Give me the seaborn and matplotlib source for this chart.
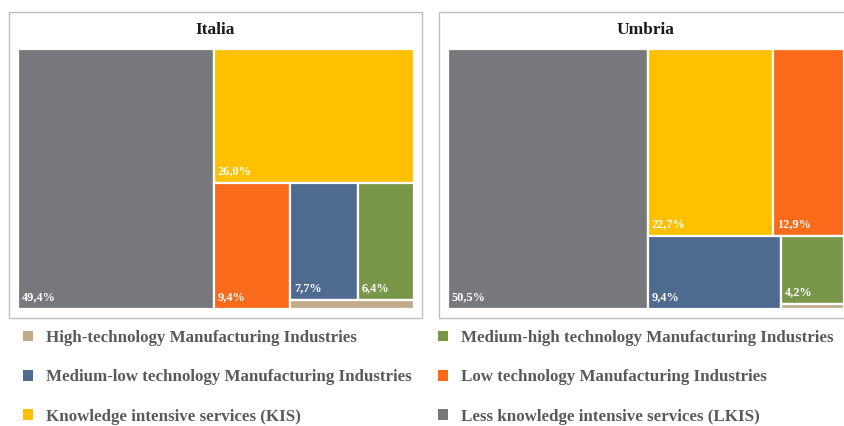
import matplotlib
matplotlib.use("Agg")
import matplotlib.pyplot as plt
from matplotlib.patches import Rectangle, Patch
import seaborn as sns

# ---- data -------------------------------------------------------------
categories = [
    "High-technology Manufacturing Industries",
    "Medium-high technology Manufacturing Industries",
    "Medium-low technology Manufacturing Industries",
    "Low technology Manufacturing Industries",
    "Knowledge intensive services (KIS)",
    "Less knowledge intensive services (LKIS)",
]
italia = [1.1, 6.4, 7.7, 9.4, 26.0, 49.4]
umbria = [0.3, 4.2, 9.4, 12.9, 22.7, 50.5]
regions = ["Italia", "Umbria"]

colors = ["#C1AB8B", "#7A9649", "#4E6A8F", "#F96A1B", "#FFC000", "#77787B"]

# ---- styling ----------------------------------------------------------
sns.set_theme(style="white")
SERIF = ["Liberation Serif", "DejaVu Serif"]
plt.rcParams["font.family"] = SERIF

W_PX, H_PX = 844, 426
LAYOUT_ASPECT = 2.1      # width:height of the space where cell shapes are balanced


def worst_ratio(row, total, W, H, vertical):
    frac = sum(row) / total
    s = sum(row)
    worst = 0.0
    for v in row:
        if vertical:
            w, h = W * frac, H * v / s
        else:
            w, h = W * v / s, H * frac
        worst = max(worst, w / h, h / w)
    return worst


def treemap(values):
    """Squarified layout with alternating strip direction, largest first."""
    order = sorted(range(len(values)), key=lambda i: -values[i])
    items = [values[i] for i in order]
    x0, y0, W, H = 0.0, 0.0, LAYOUT_ASPECT, 1.0
    total = sum(items)
    vertical = True
    rects = {}
    k = 0
    while k < len(items):
        row = [items[k]]
        j = k + 1
        while j < len(items):
            cand = row + [items[j]]
            if worst_ratio(cand, total, W, H, vertical) <= worst_ratio(row, total, W, H, vertical):
                row = cand
                j += 1
            else:
                break
        s = sum(row)
        frac = s / total
        if vertical:
            cw = W * frac
            yy = y0
            for n, v in enumerate(row):
                h = H * v / s
                rects[order[k + n]] = (x0, yy, cw, h)
                yy += h
            x0 += cw
            W -= cw
        else:
            rh = H * frac
            xx = x0
            for n, v in enumerate(row):
                w = W * v / s
                rects[order[k + n]] = (xx, y0, w, rh)
                xx += w
            y0 += rh
            H -= rh
        total -= s
        k += len(row)
        vertical = not vertical
    return rects


fig = plt.figure(figsize=(W_PX / 100, H_PX / 100), dpi=100)
fig.patch.set_facecolor("white")


def fx(px):
    return px / W_PX


def fy(py):
    return 1 - py / H_PX


panel_left = [9, 439]
map_left = [18, 448]
for name, vals, bx, mx in zip(regions, [italia, umbria], panel_left, map_left):
    # panel frame
    fig.add_artist(Rectangle((fx(bx), fy(318)), fx(413), 306 / H_PX,
                             transform=fig.transFigure, fill=False,
                             edgecolor="#BDBDBD", linewidth=1.0))
    fig.text(fx(bx + 206.5), fy(30), name, ha="center", va="center",
             fontsize=12.5, fontweight="bold", color="#1a1a1a")

    ax = fig.add_axes([fx(mx), fy(309), fx(396), 260 / H_PX])
    rects = treemap(vals)
    for i, (x, y, w, h) in rects.items():
        ax.bar(x, h, width=w, bottom=y, align="edge", color=colors[i],
               edgecolor="white", linewidth=1.6)
        if vals[i] >= 2:
            ax.annotate(f"{vals[i]:.1f}".replace(".", ",") + "%",
                        xy=(x, y + h), xytext=(2.8, 4.2),
                        textcoords="offset points", ha="left", va="bottom",
                        fontsize=8.8, fontweight="bold", color="white")
    ax.set_xlim(0, LAYOUT_ASPECT)
    ax.set_ylim(1, 0)
    ax.set_axis_off()

# legend: two columns, read row by row
leg_order = [0, 2, 4, 1, 3, 5]
handles = [Patch(facecolor=colors[i], edgecolor="none") for i in leg_order]
labels = [categories[i] for i in leg_order]
fig.legend(handles, labels, ncol=2, loc="upper left",
           bbox_to_anchor=(fx(11), fy(318)), frameon=False,
           prop={"family": SERIF, "weight": "bold", "size": 12.2},
           labelcolor="#595959", handlelength=0.6, handleheight=0.6,
           handletextpad=0.75, columnspacing=1.55, labelspacing=1.38,
           borderpad=0.2)

fig.savefig("out.png", dpi=100, facecolor="white")
